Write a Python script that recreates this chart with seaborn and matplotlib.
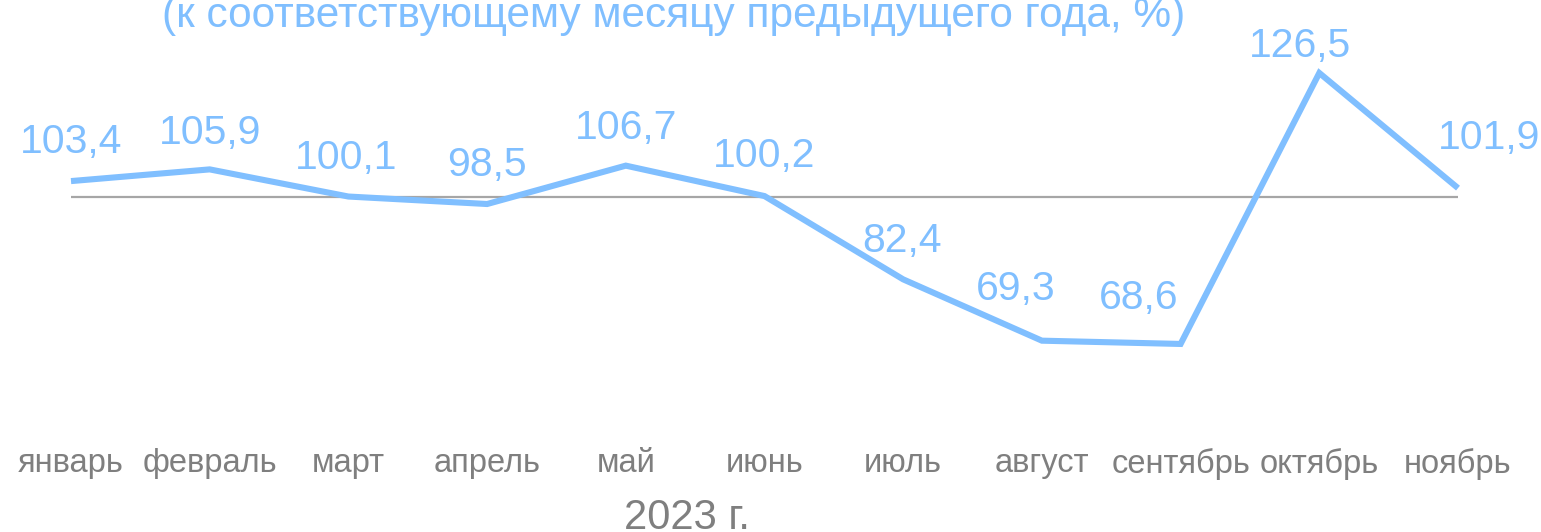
import matplotlib
matplotlib.use("Agg")
import matplotlib.pyplot as plt
import seaborn as sns
import pandas as pd

months = ["январь", "февраль", "март", "апрель", "май", "июнь",
          "июль", "август", "сентябрь", "октябрь", "ноябрь"]
values = [103.4, 105.9, 100.1, 98.5, 106.7, 100.2, 82.4, 69.3, 68.6, 126.5, 101.9]
value_labels = ["103,4", "105,9", "100,1", "98,5", "106,7", "100,2",
                "82,4", "69,3", "68,6", "126,5", "101,9"]
title_text = "(к соответствующему месяцу предыдущего года, %)"
year_text = "2023 г."
baseline_value = 100

# label offsets (pixels) relative to each point, as placed in the original
label_offsets = [(0, 28), (0, 25), (-2, 28), (0, 28), (0, 27), (0, 29),
                 (-1, 27), (-26, 41), (-42, 35), (-19, 16), (31, 39)]

BLUE = "#80BFFF"
GRAY_TEXT = "#7F7F7F"
GRAY_LINE = "#A6A6A6"

sns.set_theme(style="white")
plt.rcParams["font.family"] = ["Liberation Sans", "DejaVu Sans"]

W, H = 1541, 532
fig = plt.figure(figsize=(W / 100, H / 100), dpi=100)
bottom_px = 440
ax = fig.add_axes([0, (H - bottom_px) / H, 1, bottom_px / H])

df = pd.DataFrame({"month": months, "value": values})
df["pos"] = range(len(months))

ax.hlines(baseline_value, df["pos"].min(), df["pos"].max(), color=GRAY_LINE, lw=1.6, zorder=1)
sns.lineplot(data=df, x="pos", y="value", ax=ax, color=BLUE, lw=4.4, sort=False,
             zorder=2, solid_joinstyle="miter", solid_capstyle="butt")

# scale: 138.7 px per month, 4.68 px per unit, 100 at pixel row 197
px_per_x = 138.7
px_per_y = 4.68
ax.set_xlim(-71 / px_per_x, (W - 71) / px_per_x)
ax.set_ylim(100 - (bottom_px - 197) / px_per_y, 100 + 197 / px_per_y)

for i, (v, lab) in enumerate(zip(values, value_labels)):
    dx, dy = label_offsets[i]
    ax.annotate(lab, (i, v), xytext=(dx, dy), textcoords="offset pixels",
                ha="center", va="baseline", fontsize=29.5, color=BLUE)

ax.set_xticks(df["pos"])
ax.set_xticklabels(months, fontsize=23.5, color=GRAY_TEXT)
ax.tick_params(axis="x", length=0, pad=6)
ax.set_yticks([])
ax.set_xlabel("")
ax.set_ylabel("")
for s in ax.spines.values():
    s.set_visible(False)

fig.text(674 / W, (H - 27) / H, title_text, ha="center", va="baseline",
         fontsize=30.5, color=BLUE)
fig.text(687 / W, (H - 529) / H, year_text, ha="center", va="baseline",
         fontsize=30, color=GRAY_TEXT)

fig.savefig("out.png", dpi=100, facecolor="white")
